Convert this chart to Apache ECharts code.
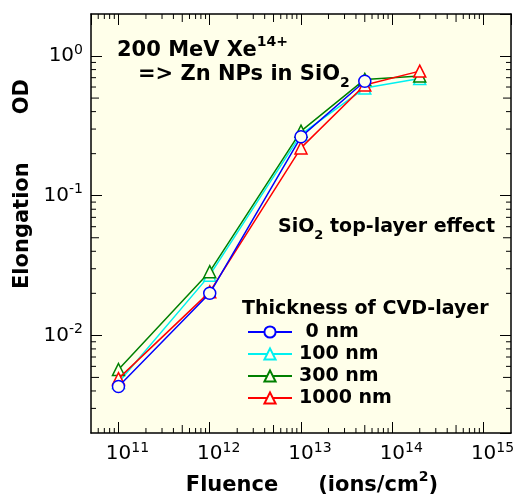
<!DOCTYPE html>
<html>
<head>
<meta charset="utf-8">
<script src="https://cdn.jsdelivr.net/npm/echarts@6/dist/echarts.min.js"></script>
<style>
  html, body { margin: 0; padding: 0; background: #fff; }
  #chart { width: 520px; height: 503px; }
</style>
</head>
<body>
<div id="chart"></div>
<script>
// fluence (ions/cm2) and elongation OD per CVD-layer thickness
const fluence = [1e11, 1e12, 1e13, 5e13, 2e14];
const od0 = [0.0043, 0.020, 0.264, 0.66, null];
const od100 = [0.0046, 0.027, 0.275, 0.59, 0.69];
const od300 = [0.0057, 0.0286, 0.29, 0.68, 0.72];
const od1000 = [0.0049, 0.0205, 0.22, 0.62, 0.78];

const seriesNames = [' 0 nm', '100 nm', '300 nm', '1000 nm'];
const seriesColors = ['#0000ff', '#00f0f0', '#008000', '#ff0000'];
const seriesSymbols = ['circle', 'triangle', 'triangle', 'triangle'];
const seriesZ = [6, 3, 4, 5];

const xRange = [5e10, 2e15];
const yRange = [2e-3, 2];
const xDecades = [1e10, 1e11, 1e12, 1e13, 1e14, 1e15];
const yDecades = [1e-3, 1e-2, 1e-1, 1e0];
const minorMantissas = [2, 3, 4, 5, 6, 7, 8, 9];

const FONT = 'DejaVu Sans';
const BG = '#ffffea';

function minorTicks(decades, range) {
  const out = [];
  decades.forEach(function (d) {
    minorMantissas.forEach(function (m) {
      const v = m * d;
      if (v > range[0] && v < range[1]) out.push([v, m]);
    });
  });
  return out;
}

function powLabel(v) {
  const lg = Math.log10(v);
  const e = Math.round(lg);
  if (Math.abs(lg - e) > 1e-6) return '';
  return '{b|10}{s|' + e + '}';
}

function labelRich(leftPad) {
  return {
    b: { fontFamily: FONT, fontSize: 20, lineHeight: 20, color: '#000', verticalAlign: 'bottom', padding: [0, 0, 0, leftPad] },
    s: { fontFamily: FONT, fontSize: 14, lineHeight: 14, color: '#000', verticalAlign: 'bottom', padding: [0, 0, 9, 0] }
  };
}

const chart = echarts.init(document.getElementById('chart'));

const lineSeries = [od0, od100, od300, od1000].map(function (vals, i) {
  const pts = [];
  fluence.forEach(function (f, j) {
    if (vals[j] != null) pts.push([f, vals[j]]);
  });
  return {
    name: seriesNames[i],
    type: 'line',
    data: pts,
    z: seriesZ[i],
    symbol: seriesSymbols[i],
    symbolSize: 12,
    showAllSymbol: true,
    lineStyle: { color: seriesColors[i], width: 1.5 },
    itemStyle: { color: BG, borderColor: seriesColors[i], borderWidth: 1.5 },
    emphasis: { disabled: true }
  };
});

function tickSeries(data, horizontal) {
  return {
    type: 'custom',
    silent: true,
    z: 10,
    data: data,
    renderItem: function (params, api) {
      const v = api.value(0);
      const len = api.value(1) === 5 ? 8 : 5;
      const st = { stroke: '#000', lineWidth: 1 };
      if (horizontal) {
        const b = api.coord([v, yRange[0]]);
        const t = api.coord([v, yRange[1]]);
        return { type: 'group', children: [
          { type: 'line', shape: { x1: b[0], y1: b[1], x2: b[0], y2: b[1] - len }, style: st },
          { type: 'line', shape: { x1: t[0], y1: t[1], x2: t[0], y2: t[1] + len }, style: st }
        ] };
      }
      const l = api.coord([xRange[0], v]);
      const r = api.coord([xRange[1], v]);
      return { type: 'group', children: [
        { type: 'line', shape: { x1: l[0], y1: l[1], x2: l[0] + len, y2: l[1] }, style: st },
        { type: 'line', shape: { x1: r[0], y1: r[1], x2: r[0] - len, y2: r[1] }, style: st }
      ] };
    }
  };
}

const xTickData = minorTicks(xDecades, xRange);
const yTickData = minorTicks(yDecades, yRange);

const frameLine = { show: true, lineStyle: { color: '#000', width: 1.5 } };
const majorTick = { show: true, inside: true, length: 11, lineStyle: { color: '#000', width: 1 } };

chart.setOption({
  animation: false,
  backgroundColor: '#fff',
  grid: {
    left: 91, right: 9, top: 14, bottom: 70,
    show: true, backgroundColor: BG, borderWidth: 0,
    outerBoundsMode: 'none'
  },
  xAxis: [{
    type: 'log', logBase: 10, min: xRange[0], max: xRange[1],
    position: 'bottom',
    axisLine: frameLine, axisTick: majorTick, splitLine: { show: false },
    axisLabel: {
      margin: 11, formatter: powLabel, showMinLabel: false, showMaxLabel: false,
      rich: labelRich(18)
    },
    name: '{a|Fluence}{p|(ions/cm}{s|2}{q|)}',
    nameLocation: 'middle', nameGap: 42, nameMoveOverlap: false,
    nameTextStyle: {
      padding: [0, 0, 0, 22],
      rich: {
        a: { fontFamily: FONT, fontSize: 21, fontWeight: 'bold', color: '#000', lineHeight: 21, verticalAlign: 'bottom' },
        p: { fontFamily: FONT, fontSize: 21, fontWeight: 'bold', color: '#000', lineHeight: 21, verticalAlign: 'bottom', padding: [0, 0, 0, 40] },
        s: { fontFamily: FONT, fontSize: 14, fontWeight: 'bold', color: '#000', lineHeight: 14, verticalAlign: 'bottom', padding: [0, 0, 12, 0] },
        q: { fontFamily: FONT, fontSize: 21, fontWeight: 'bold', color: '#000', lineHeight: 21, verticalAlign: 'bottom' }
      }
    }
  }, {
    type: 'log', logBase: 10, min: xRange[0], max: xRange[1],
    position: 'top',
    axisLine: frameLine, axisTick: majorTick, axisLabel: { show: false }, splitLine: { show: false }
  }],
  yAxis: [{
    type: 'log', logBase: 10, min: yRange[0], max: yRange[1],
    position: 'left',
    axisLine: frameLine, axisTick: majorTick, splitLine: { show: false },
    axisLabel: {
      margin: 8, formatter: powLabel, showMinLabel: false, showMaxLabel: false,
      rich: labelRich(0)
    },
    name: '{a|Elongation}{b|OD}',
    nameLocation: 'middle', nameGap: 58, nameMoveOverlap: false,
    nameTextStyle: {
      padding: [0, 0, 0, 79],
      rich: {
        a: { fontFamily: FONT, fontSize: 21, fontWeight: 'bold', color: '#000' },
        b: { fontFamily: FONT, fontSize: 21, fontWeight: 'bold', color: '#000', padding: [0, 0, 0, 48] }
      }
    }
  }, {
    type: 'log', logBase: 10, min: yRange[0], max: yRange[1],
    position: 'right',
    axisLine: frameLine, axisTick: majorTick, axisLabel: { show: false }, splitLine: { show: false }
  }],
  legend: {
    data: seriesNames,
    left: 242, top: 317, orient: 'vertical',
    itemWidth: 44, itemHeight: 14, itemGap: 2,
    selectedMode: false,
    textStyle: { fontFamily: FONT, fontSize: 19, fontWeight: 'bold', color: '#000', lineHeight: 20, padding: [0, 0, 0, 2] }
  },
  graphic: [{
    type: 'text', left: 117, top: 35, z: 100,
    style: {
      text: '{a|200 MeV Xe}{s|14+}',
      rich: {
        a: { fontFamily: FONT, fontSize: 21, fontWeight: 'bold', fill: '#000', lineHeight: 21, verticalAlign: 'bottom' },
        s: { fontFamily: FONT, fontSize: 14, fontWeight: 'bold', fill: '#000', lineHeight: 14, verticalAlign: 'bottom', padding: [0, 0, 12, 0] }
      }
    }
  }, {
    type: 'text', left: 138, top: 64, z: 100,
    style: {
      text: '{a|=> Zn NPs in SiO}{s|2}',
      rich: {
        a: { fontFamily: FONT, fontSize: 21, fontWeight: 'bold', fill: '#000', lineHeight: 24, verticalAlign: 'top' },
        s: { fontFamily: FONT, fontSize: 14, fontWeight: 'bold', fill: '#000', lineHeight: 14, verticalAlign: 'top', padding: [12, 0, 0, 0] }
      }
    }
  }, {
    type: 'text', left: 278, top: 218, z: 100,
    style: {
      text: '{a|SiO}{s|2}{a| top-layer effect}',
      rich: {
        a: { fontFamily: FONT, fontSize: 19, fontWeight: 'bold', fill: '#000', lineHeight: 22, verticalAlign: 'top' },
        s: { fontFamily: FONT, fontSize: 13, fontWeight: 'bold', fill: '#000', lineHeight: 13, verticalAlign: 'top', padding: [11, 0, 0, 0] }
      }
    }
  }, {
    type: 'text', left: 242, top: 300, z: 100,
    style: {
      text: 'Thickness of CVD-layer',
      fontFamily: FONT, fontSize: 19, fontWeight: 'bold', fill: '#000'
    }
  }],
  series: lineSeries.concat([tickSeries(xTickData, true), tickSeries(yTickData, false)])
});
</script>
</body>
</html>
